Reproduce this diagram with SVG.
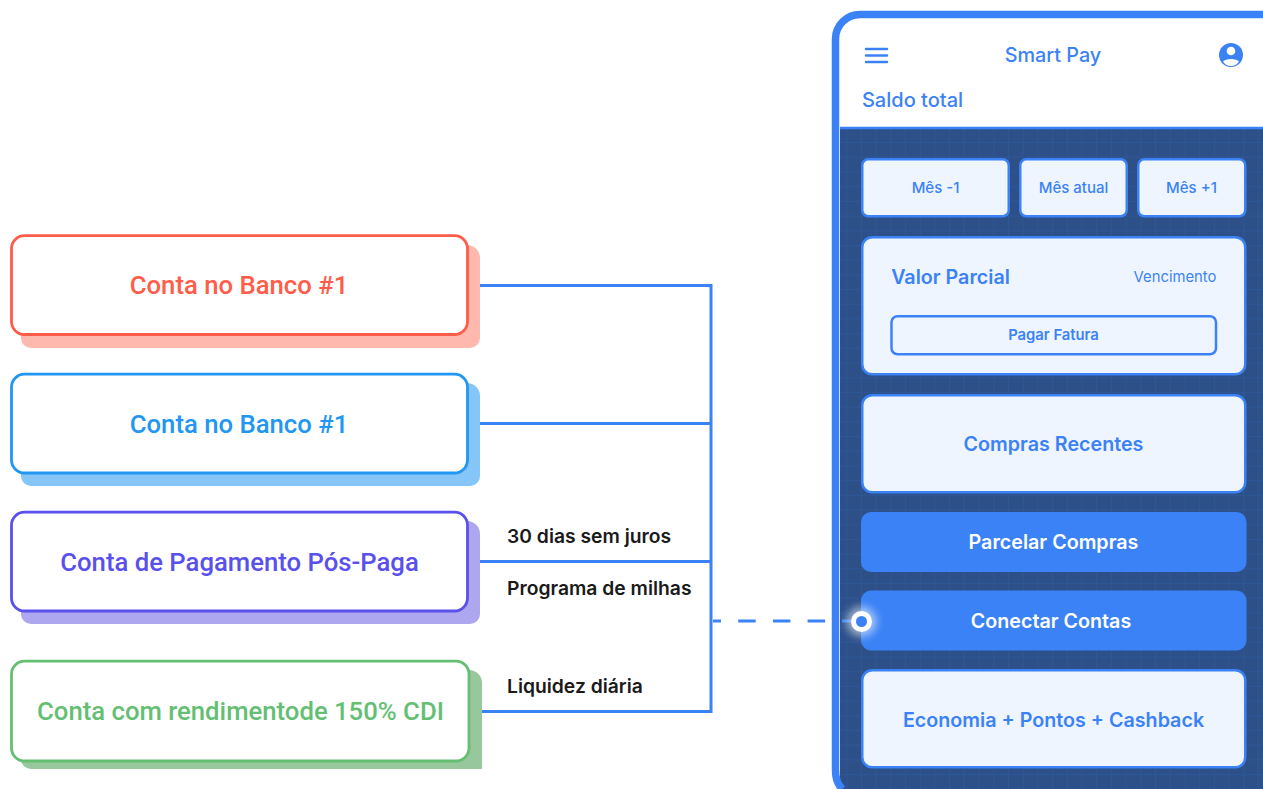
<svg xmlns="http://www.w3.org/2000/svg" width="1263" height="789" viewBox="0 0 1263 789">
<style>
.in{font-family:"Inter","Liberation Sans",sans-serif;fill:#3b82f6;text-anchor:middle}
.ro{font-family:"Roboto","Liberation Sans",sans-serif;font-size:25.700px;font-weight:500;text-anchor:middle}
.lb{font-family:"Inter","Liberation Sans",sans-serif;font-size:19.300px;font-weight:600;fill:#1a1a1a}
.card{fill:#eff5ff;stroke:#3b82f6;stroke-width:2.500}
.btn{fill:#3b82f6}
.box{fill:#fff;stroke-width:2.800}
.wire{fill:none;stroke:#3b82f6;stroke-width:3}
</style>
<defs>
<pattern id="grid" width="14.700" height="14.700" patternUnits="userSpaceOnUse" x="832.600" y="128.300">
<rect width="14.700" height="14.700" fill="#2d5089"/>
<path d="M14.700 0V14.700M0 14.700H14.700" stroke="#2e5795" stroke-width="2" fill="none"/>
</pattern>
<filter id="glow" x="-100%" y="-100%" width="300%" height="300%"><feGaussianBlur stdDeviation="4"/></filter>
</defs>
<rect width="1263" height="789" fill="#fff"/>
<g id="connectors">
<path class="wire" d="M480 285.500H711M480 423.500H711M480 561.500H711M481 711.500H711M711 284V713"/>
<path class="wire" d="M713 621H835" stroke-dasharray="17.500 17.200" stroke-dashoffset="9.500"/>
</g>
<g id="node-banco-1">
<path d="M21 245H467a13 13 0 0 1 13 13V338a10 10 0 0 1-10 10H31a10 10 0 0 1-10-10Z" fill="#ffb8ae"/>
<rect class="box" x="11.500" y="235.700" width="456" height="98.800" rx="13" stroke="#ff5c49"/>
<text class="ro" x="239" y="294" fill="#ff5c49">Conta no Banco #1</text>
</g>
<g id="node-banco-2">
<path d="M21 383H467a13 13 0 0 1 13 13V476a10 10 0 0 1-10 10H31a10 10 0 0 1-10-10Z" fill="#85c5f8"/>
<rect class="box" x="11.500" y="374.200" width="456" height="98.800" rx="13" stroke="#2196f3"/>
<text class="ro" x="239" y="432.500" fill="#2196f3">Conta no Banco #1</text>
</g>
<g id="node-pagamento">
<path d="M21 521H467a13 13 0 0 1 13 13V614a10 10 0 0 1-10 10H31a10 10 0 0 1-10-10Z" fill="#aca7ee"/>
<rect class="box" x="11.500" y="512.200" width="456" height="98.800" rx="13" stroke="#5a50ec"/>
<text class="ro" x="239.500" y="570.500" fill="#5a50ec">Conta de Pagamento Pós-Paga</text>
</g>
<g id="node-rendimento">
<path d="M21 670H469a13 13 0 0 1 13 13V769H31a10 10 0 0 1-10-10Z" fill="#97c89d"/>
<rect class="box" x="11.500" y="661.200" width="457.500" height="99.800" rx="13" stroke="#64bf73"/>
<text class="ro" x="240.500" y="719.500" fill="#64bf73">Conta com rendimentode 150% CDI</text>
</g>
<g id="labels">
<text class="lb" x="507" y="543">30 dias sem juros</text>
<text class="lb" x="507" y="594.500">Programa de milhas</text>
<text class="lb" x="507" y="692.500">Liquidez diária</text>
</g>
<g id="phone">
<path d="M1263 15H860a24 24 0 0 0-24 24V789H1263Z" fill="#fff"/>
<rect x="840" y="129" width="423" height="660" fill="url(#grid)"/>
<path d="M1263 14.500H860a24.500 24.500 0 0 0-24.500 24.500V770q0 13 7 19" fill="none" stroke="#3b82f6" stroke-width="7.500"/>
<path d="M840 128H1263" stroke="#3b82f6" stroke-width="2.500"/>
<path id="menu" d="M866 49H887M866 55.500H887M866 62H887" stroke="#3b82f6" stroke-width="2.500" stroke-linecap="round"/>
<text class="in" x="1053" y="62" font-size="19.800" font-weight="500">Smart Pay</text>
<g id="avatar">
<circle cx="1231" cy="55" r="12" fill="#3b82f6"/>
<circle cx="1231" cy="51" r="4.300" fill="#fff"/>
<path d="M1223 61.500c2-3.500 14-3.500 16 0q-3 4.500-8 4.500t-8-4.500Z" fill="#fff"/>
</g>
<text class="in" x="912.500" y="106.500" font-size="20" font-weight="500">Saldo total</text>
</g>
<g id="mes-1"><rect class="card" x="862.250" y="159.250" width="146.500" height="57" rx="6"/><text class="in" x="935.500" y="192.500" font-size="15" font-weight="500">Mês -1</text></g>
<g id="mes-atual"><rect class="card" x="1020.250" y="159.250" width="106.500" height="57" rx="6"/><text class="in" x="1073.500" y="192.500" font-size="15" font-weight="500">Mês atual</text></g>
<g id="mes-2"><rect class="card" x="1138.250" y="159.250" width="107" height="57" rx="6"/><text class="in" x="1191.500" y="192.500" font-size="15" font-weight="500">Mês +1</text></g>
<g id="valor-parcial"><rect class="card" x="862.250" y="237.250" width="383" height="137" rx="10"/>
<text class="in" x="950.500" y="283.500" font-size="19.700" font-weight="600">Valor Parcial</text>
<text class="in" x="1175" y="281.500" font-size="14.800">Vencimento</text>
<rect x="891.500" y="316.250" width="324.500" height="38" rx="6" fill="none" stroke="#3b82f6" stroke-width="2.500"/>
<text class="in" x="1053.500" y="340" font-size="14.800" font-weight="600">Pagar Fatura</text></g>
<g id="compras-recentes"><rect class="card" x="862.250" y="395.250" width="383" height="97" rx="10"/><text class="in" x="1053.500" y="451" font-size="19.700" font-weight="600">Compras Recentes</text></g>
<g id="parcelar"><rect class="btn" x="861" y="512" width="385.500" height="60" rx="10"/><text class="in" x="1053.500" y="549" font-size="19.700" font-weight="600" style="fill:#fff">Parcelar Compras</text></g>
<g id="conectar"><rect class="btn" x="861" y="590.500" width="385.500" height="60" rx="10"/><text class="in" x="1051" y="628" font-size="19.700" font-weight="600" style="fill:#fff">Conectar Contas</text></g>
<g id="economia"><rect class="card" x="862.250" y="670.250" width="383" height="97" rx="10"/><text class="in" x="1053.500" y="726.500" font-size="19.700" font-weight="600">Economia + Pontos + Cashback</text></g>
<g id="dot">
<path d="M842 621H856" stroke="#3b82f6" stroke-width="3"/>
<circle cx="861.500" cy="621.500" r="15" fill="#fff" opacity=".55" filter="url(#glow)"/>
<circle cx="861.500" cy="621.500" r="8" fill="#3b82f6" stroke="#fff" stroke-width="5"/>
</g>
</svg>
